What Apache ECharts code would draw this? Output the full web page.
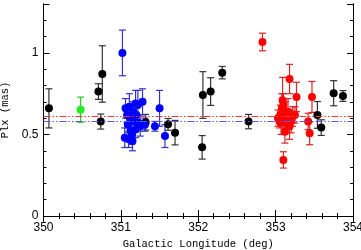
<!DOCTYPE html>
<html>
<head>
<meta charset="utf-8">
<script src="https://cdn.jsdelivr.net/npm/echarts@6/dist/echarts.min.js"></script>
<style>
  html, body { margin: 0; padding: 0; background: #fff; }
  #chart { width: 361px; height: 250px; }
</style>
</head>
<body>
<div id="chart"></div>
<script>
// [longitude (deg), parallax (mas), error (mas)]
const blackPts = [
  [350.07, 0.66, 0.12], [350.71, 0.763, 0.048], [350.76, 0.871, 0.173],
  [350.74, 0.579, 0.046], [351.32, 0.575, 0.048], [351.61, 0.562, 0.036],
  [351.70, 0.511, 0.075], [352.05, 0.421, 0.072], [352.06, 0.742, 0.143],
  [352.16, 0.763, 0.085], [352.31, 0.879, 0.038], [352.65, 0.579, 0.044],
  [353.54, 0.62, 0.082], [353.59, 0.542, 0.048], [353.75, 0.753, 0.077],
  [353.87, 0.736, 0.033]
];
const greenPts = [[350.48, 0.652, 0.077]];
const bluePts = [
  [351.02, 1.00, 0.14], [351.06, 0.66, 0.06], [351.08, 0.62, 0.05],
  [351.05, 0.48, 0.06], [351.10, 0.47, 0.05], [351.09, 0.56, 0.05],
  [351.11, 0.67, 0.08], [351.12, 0.60, 0.07], [351.13, 0.52, 0.05],
  [351.14, 0.50, 0.06], [351.15, 0.46, 0.06], [351.16, 0.64, 0.06],
  [351.17, 0.58, 0.06], [351.19, 0.69, 0.08], [351.19, 0.53, 0.05],
  [351.20, 0.62, 0.07], [351.22, 0.68, 0.09], [351.23, 0.57, 0.05],
  [351.25, 0.55, 0.06], [351.28, 0.70, 0.08], [351.31, 0.56, 0.04],
  [351.44, 0.55, 0.03], [351.50, 0.66, 0.11], [351.57, 0.49, 0.07]
];
const redPts = [
  [352.83, 1.067, 0.054], [353.03, 0.60, 0.05], [353.05, 0.58, 0.04],
  [353.06, 0.62, 0.06], [353.07, 0.57, 0.07], [353.08, 0.66, 0.09],
  [353.09, 0.71, 0.14], [353.10, 0.344, 0.05], [353.10, 0.68, 0.07],
  [353.11, 0.60, 0.06], [353.12, 0.517, 0.07], [353.13, 0.63, 0.07],
  [353.14, 0.57, 0.06], [353.15, 0.60, 0.05], [353.16, 0.64, 0.08],
  [353.17, 0.59, 0.06], [353.18, 0.84, 0.09], [353.18, 0.55, 0.08],
  [353.20, 0.58, 0.07], [353.22, 0.61, 0.06], [353.25, 0.62, 0.05],
  [353.27, 0.73, 0.09], [353.42, 0.58, 0.05], [353.44, 0.507, 0.07],
  [353.47, 0.73, 0.095]
];
const redMean = 0.61;
const blueMean = 0.58;
const xTicks = [350, 351, 352, 353, 354];
const yTickLabels = { 0: '0', 0.5: '0.5', 1: '1' };

const chart = echarts.init(document.getElementById('chart'), null, { renderer: 'canvas' });

const tickFont = { fontFamily: 'Liberation Sans', fontSize: 12, color: '#000' };
const titleFont = { fontFamily: 'Liberation Mono', fontSize: 10.5, color: '#000' };
const axLine = { show: true, lineStyle: { color: '#000', width: 1 } };

function errBars(color) {
  return (params, api) => {
    const x = api.value(0), y = api.value(1), e = api.value(2);
    const t = api.coord([x, y + e]);
    const b = api.coord([x, y - e]);
    const w = 3.5;
    const st = { stroke: color, lineWidth: 1.2 };
    return {
      type: 'group',
      children: [
        { type: 'line', shape: { x1: t[0], y1: t[1], x2: b[0], y2: b[1] }, style: st },
        { type: 'line', shape: { x1: t[0] - w, y1: t[1], x2: t[0] + w, y2: t[1] }, style: st },
        { type: 'line', shape: { x1: b[0] - w, y1: b[1], x2: b[0] + w, y2: b[1] }, style: st }
      ]
    };
  };
}

function group(name, data, dotColor, barColor) {
  return [
    { name: name + 'err', type: 'custom', data, renderItem: errBars(barColor),
      encode: { x: 0, y: 1 }, silent: true, z: 2 },
    { name, type: 'scatter', data, symbolSize: 8, encode: { x: 0, y: 1 },
      itemStyle: { color: dotColor, opacity: 1 }, silent: true, z: 3 }
  ];
}

function yAx(pos, interval, len, labels) {
  return {
    type: 'value', position: pos, min: 0, max: 1.3, interval,
    axisLine: axLine,
    axisTick: { show: true, inside: true, length: len, lineStyle: { color: '#000' } },
    axisLabel: labels ? { ...tickFont, margin: 5,
      formatter: v => (yTickLabels[v] !== undefined ? yTickLabels[v] : '') } : { show: false },
    splitLine: { show: false },
    name: labels ? 'Plx (mas)' : '', nameLocation: 'middle', nameGap: 31,
    nameTextStyle: titleFont
  };
}

const xBase = {
  type: 'value', min: xTicks[0], max: xTicks[xTicks.length - 1], interval: 1,
  axisLine: axLine,
  axisTick: { show: true, inside: true, length: 6, lineStyle: { color: '#000' } },
  minorTick: { show: true, splitNumber: 5, length: 3, lineStyle: { color: '#000' } },
  splitLine: { show: false }
};

chart.setOption({
  animation: false,
  backgroundColor: '#fff',
  grid: { left: 43.5, right: 8, top: 4, bottom: 34, containLabel: false, outerBoundsMode: 'none' },
  xAxis: [
    { ...xBase, position: 'bottom', axisLabel: { ...tickFont, margin: 6 },
      name: 'Galactic Longitude (deg)', nameLocation: 'middle', nameGap: 20,
      nameTextStyle: titleFont },
    { ...xBase, position: 'top', axisLabel: { show: false } }
  ],
  yAxis: [
    yAx('left', 0.5, 6, true),
    yAx('left', 0.1, 3, false),
    yAx('right', 0.5, 6, false),
    yAx('right', 0.1, 3, false)
  ],
  series: [
    {
      type: 'line', data: [], silent: true,
      markLine: {
        silent: true, symbol: 'none', label: { show: false },
        data: [
          { yAxis: blueMean, lineStyle: { color: '#5a5ae0', width: 1, type: [7, 2, 1.5, 2, 1.5, 2] } },
          { yAxis: redMean, lineStyle: { color: '#e03a3a', width: 1, type: [7, 2, 1.5, 2, 1.5, 2] } }
        ]
      }
    },
    ...group('black', blackPts, '#000', '#333'),
    ...group('green', greenPts, '#22ee22', '#22cc22'),
    ...group('blue', bluePts, '#0000ff', '#3333cc'),
    ...group('red', redPts, '#ff0000', '#dd2222')
  ]
});
</script>
</body>
</html>
